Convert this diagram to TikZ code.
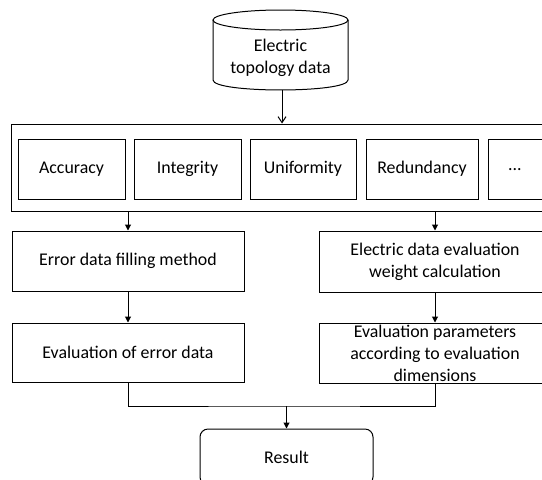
\documentclass[tikz,border=0pt]{standalone}
\usepackage{fontspec}
\setmainfont{Carlito}
\usetikzlibrary{arrows.meta}
\begin{document}
\begin{tikzpicture}[x=0.75pt,y=-0.75pt,
  every node/.style={font=\fontsize{13.4}{16.5}\selectfont, inner sep=0pt, align=center},
  boxstyle/.style={draw=black, line width=0.75pt},
  arr/.style={line width=0.75pt, -{Triangle[length=4.5pt,width=4.5pt]}},
  barb/.style={line width=0.75pt, -{Straight Barb[length=4.5pt,width=6pt]}},
  ln/.style={line width=0.75pt}]
\useasboundingbox (0,0) rectangle (542,479);
\clip (0,0) rectangle (542,479);
% cylinder
\draw[ln] (213,20) -- (213,80) .. controls (213,93.3) and (348,93.3) .. (348,80) -- (348,20);
\draw[ln] (280.5,20) ellipse [x radius=67.5, y radius=10];
\node (cyl) at (280.5,58) {Electric\\topology data};
\coordinate (cylbot) at (282,90);
% outer box and dimension boxes
\node[boxstyle, minimum width=445.5pt, minimum height=65.25pt] (outer) at (308,167.5) {};
\node[boxstyle, minimum width=80.25pt, minimum height=45pt] (acc) at (71.5,169) {Accuracy};
\node[boxstyle, minimum width=80.25pt, minimum height=45pt] (int) at (187.5,169) {Integrity};
\node[boxstyle, minimum width=79.5pt, minimum height=45pt] (uni) at (303,169) {Uniformity};
\node[boxstyle, minimum width=84pt, minimum height=45pt] (red) at (422,169) {Redundancy};
\node[boxstyle, minimum width=54pt, minimum height=45pt] (dots) at (524,169) {};
\node (dotslbl) at (515,170) {...};
% process boxes
\node[boxstyle, minimum width=174pt, minimum height=45pt] (errfill) at (128,261) {Error data filling method};
\node[boxstyle, minimum width=174pt, minimum height=45.75pt] (weight) at (435,261.5) {Electric data evaluation\\weight calculation};
\node[boxstyle, minimum width=174pt, minimum height=44.25pt] (everr) at (128,352.5) {Evaluation of error data};
\node[boxstyle, minimum width=174pt, minimum height=45pt] (evpar) at (435,353) {Evaluation parameters\\according to evaluation\\dimensions};
\node[boxstyle, rounded corners=6pt, minimum width=129.75pt, minimum height=42pt] (res) at (286.5,457) {Result};
\coordinate (m) at (286.5,406);
% connectors
\draw[barb] (cylbot) -- (cylbot |- outer.north);
\draw[arr] (outer.south -| errfill) -- (errfill.north);
\draw[arr] (outer.south -| weight) -- (weight.north);
\draw[arr] (errfill.south) -- (everr.north);
\draw[arr] (weight.south) -- (evpar.north);
\draw[ln] (everr.south) |- (m) -| (evpar.south);
\draw[arr] (m) -- (res.north);
\end{tikzpicture}
\end{document}
